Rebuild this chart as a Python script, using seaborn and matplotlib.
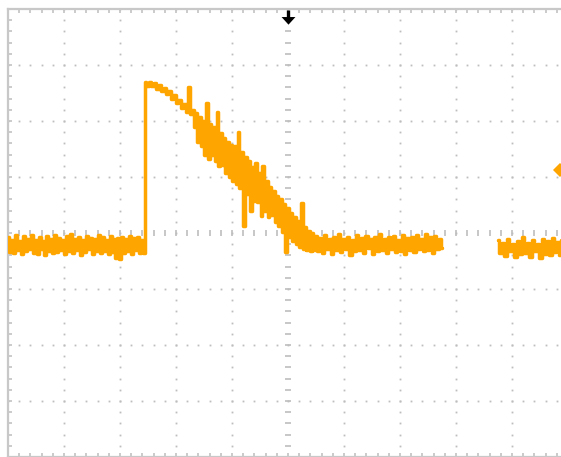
"""
Oscilloscope-style capture: a pulse with a noisy decaying tail on a
10 x 8 division graticule.
"""

import numpy as np
import pandas as pd
import matplotlib
matplotlib.use("Agg")
import matplotlib.pyplot as plt
import seaborn as sns

# ── data (x in divisions, y in divisions from the centre line) ───────────────
# baseline before the pulse
pre_span = (0.0, 2.43)
pre_vals = [
    -0.08, -0.34, -0.12, -0.36, -0.04, -0.30, -0.14, -0.38, -0.06, -0.33,
    -0.10, -0.29, -0.03, -0.35, -0.12, -0.37, -0.07, -0.28, -0.15, -0.40,
    -0.05, -0.32, -0.11, -0.36, -0.04, -0.34, -0.09, -0.30, -0.13, -0.38,
    -0.06, -0.33, -0.02, -0.36, -0.10, -0.31, -0.08, -0.39, -0.13, -0.34,
    -0.05, -0.29, -0.09, -0.37, -0.11, -0.33, -0.04, -0.35, -0.08, -0.32,
    -0.12, -0.38, -0.06, -0.34, -0.10, -0.45, -0.09, -0.47, -0.07, -0.36,
    -0.11, -0.33, -0.05, -0.37, -0.09, -0.31, -0.08, -0.35, -0.13, -0.36,
]
# smooth top of the pulse
top_span = (2.45, 3.28)
top_vals = [
    2.70, 2.63, 2.70, 2.62, 2.68, 2.58, 2.64, 2.53, 2.59, 2.48,
    2.53, 2.40, 2.46, 2.32, 2.38, 2.24, 2.30, 2.16, 2.60, 2.13,
]
# noisy decay (alternating upper / lower excursions)
decay_span = (3.30, 5.47)
decay_vals = [
    2.20, 1.90, 2.15, 1.62, 2.08, 1.55, 2.00, 1.40, 2.32, 1.32,
    1.95, 1.40, 1.90, 1.28, 2.16, 1.20, 1.78, 1.22, 1.70, 1.08,
    1.62, 1.00, 1.58, 0.92, 1.55, 0.88, 1.80, 0.80, 1.45, 0.12,
    1.35, 0.70, 1.28, 0.40, 1.18, 0.58, 1.25, 0.55, 1.08, 0.30,
    1.20, 0.40, 0.92, 0.29, 0.82, 0.32, 0.75, 0.20, 0.66, 0.12,
    0.60, 0.02, 0.52, -0.34, 0.45, -0.08, 0.35, -0.14, 0.28, -0.20,
    0.22, -0.25, 0.54, -0.28, 0.10, -0.30, 0.04, -0.32, 0.00, -0.30,
]
# baseline after the pulse
post_span = (5.50, 7.75)
post_vals = [
    -0.05, -0.32, -0.09, -0.35, -0.03, -0.29, -0.11, -0.37, -0.07, -0.31,
    -0.01, -0.34, -0.10, -0.28, -0.08, -0.39, -0.12, -0.32, -0.04, -0.30,
    -0.09, -0.35, -0.06, -0.27, -0.11, -0.38, -0.07, -0.33, -0.02, -0.31,
    -0.10, -0.36, -0.08, -0.29, -0.05, -0.34, -0.12, -0.32, -0.03, -0.37,
    -0.09, -0.30, -0.07, -0.34, -0.04, -0.28, -0.11, -0.33, -0.01, -0.31,
    -0.08, -0.35, -0.05, -0.29, -0.10, -0.26,
]
# last piece after the display gap
tail_span = (8.75, 9.95)
tail_vals = [
    -0.12, -0.36, -0.18, -0.41, -0.10, -0.33, -0.20, -0.43, -0.14, -0.38,
    -0.08, -0.35, -0.17, -0.42, -0.12, -0.33, -0.19, -0.44, -0.11, -0.37,
    -0.15, -0.40, -0.09, -0.34, -0.16, -0.39, -0.13, -0.36,
]
level_marker = (9.86, 1.125)   # channel level indicator on the right edge
trigger_pos = 5.0              # trigger position arrow at the top

TRACE = "#FFA500"
GRID = "#bdbdbd"
FRAME = "#c8c8c8"


def segment(span, vals, name):
    t = np.linspace(span[0], span[1], len(vals))
    return pd.DataFrame({"t": t, "v": vals, "seg": name})


main = pd.concat([
    segment(pre_span, pre_vals, "main"),
    segment(top_span, top_vals, "main"),
    segment(decay_span, decay_vals, "main"),
    segment(post_span, post_vals, "main"),
], ignore_index=True)
tail = segment(tail_span, tail_vals, "tail")

# ── figure ───────────────────────────────────────────────────────────────────
sns.set_theme(style="white")
fig = plt.figure(figsize=(5.61, 4.57), dpi=100, facecolor="white")
ax = fig.add_axes([8 / 561, 0.0, 560 / 561, 448 / 457])
ax.set_xlim(0, 10)
ax.set_ylim(-4, 4)
ax.set_facecolor("white")

# graticule dots
minor = np.round(np.arange(0, 10.001, 0.2), 2)
minor_y = np.round(np.arange(-4, 4.001, 0.2), 2)
for gx in range(1, 10):
    if gx == 5:
        continue
    ax.plot(np.full_like(minor_y, gx), minor_y, ls="none", marker="s",
            ms=1.3, mew=0, color=GRID, zorder=1)
for gy in range(-3, 4):
    if gy == 0:
        continue
    ax.plot(minor, np.full_like(minor, gy), ls="none", marker="s",
            ms=1.3, mew=0, color=GRID, zorder=1)

# centre cross with small ticks
ax.plot(minor, np.zeros_like(minor), ls="none", marker="|", ms=4.5,
        mew=1.2, color=GRID, zorder=1)
ax.plot(np.full_like(minor_y, 5.0), minor_y, ls="none", marker="_", ms=4.5,
        mew=1.2, color=GRID, zorder=1)

# frame ticks
ax.set_xticks(np.arange(0, 11, 1))
ax.set_xticks(minor, minor=True)
ax.set_yticks(np.arange(-4, 5, 1))
ax.set_yticks(minor_y, minor=True)
ax.tick_params(which="both", direction="in", length=3, width=1.1,
               color=GRID, top=True, bottom=True, left=True, right=True,
               labelleft=False, labelbottom=False)
for side, sp in ax.spines.items():
    sp.set_color(FRAME)
    sp.set_linewidth(1.6)

# trace
for df in (main, tail):
    sns.lineplot(data=df, x="t", y="v", ax=ax, color=TRACE, lw=2.5,
                 sort=False, estimator=None, drawstyle="steps-mid", zorder=3)
ax.set_xlabel("")
ax.set_ylabel("")

# indicators
ax.plot([level_marker[0]], [level_marker[1]], marker="D", ms=7,
        color=TRACE, mew=0, clip_on=False, zorder=4)
ax.plot([trigger_pos, trigger_pos], [3.98, 3.80], color="black",
        lw=2.4, solid_capstyle="butt", zorder=4)
ax.plot([trigger_pos], [3.795], marker=[(-1, 0.5), (1, 0.5), (0, -0.6)],
        ms=10, color="black", mew=0, zorder=4)

fig.savefig("out.png", dpi=100)
